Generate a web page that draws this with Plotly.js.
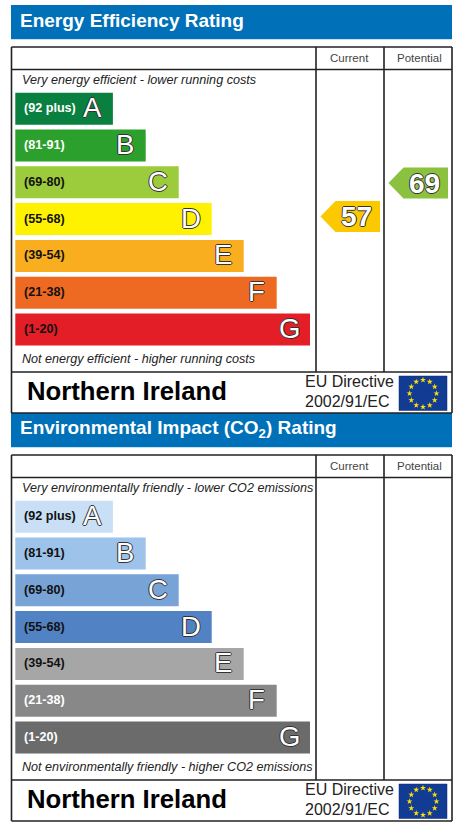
<!DOCTYPE html>
<html><head><meta charset="utf-8">
<script src="https://cdn.plot.ly/plotly-3.0.1.min.js"></script>
<style>html,body{margin:0;padding:0;background:#fff}#c{width:457px;height:823px}</style></head>
<body><div id="c"></div>
<script>
const bandLabels = ['(92 plus)','(81-91)','(69-80)','(55-68)','(39-54)','(21-38)','(1-20)'];
const bandLetters = ['A','B','C','D','E','F','G'];
const bandLengths = [97.6,130.4,163.4,196.4,228.4,261.4,294.7];
const energyColors = ['#0a8040','#2ba02c','#9ccb3b','#fff200','#f8ae1e','#ee6a22','#e31e26'];
const envColors = ['#c8dff5','#9dc3ea','#77a3d6','#5182c4','#a6a6a6','#888888','#6b6b6b'];
const energyLabelColors = ['#fff','#fff','#111','#111','#111','#111','#111'];
const envLabelColors = ['#111','#111','#111','#111','#111','#fff','#fff'];
const energyTitle = 'Energy Efficiency Rating';
const envTitle = 'Environmental Impact (CO<sub>2</sub>) Rating';
const columnHeads = ['Current','Potential'];
const energyCaptions = ['Very energy efficient - lower running costs','Not energy efficient - higher running costs'];
const envCaptions = ['Very environmentally friendly - lower CO2 emissions','Not environmentally friendly - higher CO2 emissions'];
const regionName = 'Northern Ireland';
const directive = ['EU Directive','2002/91/EC'];
const currentScore = 57, currentBand = 3, currentColor = '#fcc800';
const potentialScore = 69, potentialBand = 2, potentialColor = '#8cc13f';

const FONT = 'Liberation Sans, Arial, sans-serif';
const traces = [], shapes = [], annotations = [];
const L = 11.5, R = 452, C1 = 316, C2 = 384;
const outline = '-1px 0 #333,1px 0 #333,0 -1px #333,0 1px #333';

function txt(x,y,text,size,color,opts){
  annotations.push(Object.assign({x,y,xref:'x',yref:'y',text,showarrow:false,xanchor:'left',yanchor:'middle',
    font:{family:FONT,size,color},borderpad:0},opts||{}));
}
function line(x0,y0,x1,y1){
  shapes.push({type:'line',x0,y0,x1,y1,xref:'x',yref:'y',line:{color:'#222',width:1.6},layer:'above'});
}
function panel(o){
  shapes.push({type:'rect',x0:11,x1:452,y0:o.bannerTop,y1:o.bannerTop+34,fillcolor:'#0070b8',line:{width:0},layer:'below'});
  shapes.push({type:'line',x0:11,x1:452,y0:o.bannerTop+34.5,y1:o.bannerTop+34.5,line:{color:'#bfe3f2',width:1},layer:'below'});
  txt(18.7,o.bannerTop+15.5,o.title,19,'#fff',{font:{family:FONT,size:19,color:'#fff',weight:700}});
  const t=o.top, b=t+366;
  line(L,t,R,t); line(L,t,L,b); line(R,t,R,b); line(L,b,R,b);
  line(L,t+22.5,R,t+22.5); line(L,t+325,R,t+325);
  line(C1,t,C1,t+325); line(C2,t,C2,t+325);
  txt((C1+C2)/2-1,t+11,columnHeads[0],11.5,'#444',{xanchor:'center'});
  txt((C2+R)/2+1.5,t+11,columnHeads[1],11.5,'#444',{xanchor:'center'});
  txt(21,t+33,o.captions[0],12.6,'#222',{font:{family:FONT,size:12.6,color:'#222',style:'italic'}});
  txt(21,t+311.5,o.captions[1],12.6,'#222',{font:{family:FONT,size:12.6,color:'#222',style:'italic'}});
  const rowY=bandLengths.map((_,i)=>t+61.7+i*36.8);
  traces.push({type:'bar',orientation:'h',x:bandLengths,y:rowY,base:15.3,width:32,
    marker:{color:o.colors,line:{width:0}},hoverinfo:'skip',showlegend:false});
  bandLengths.forEach((len,i)=>{
    txt(22.5,rowY[i]-0.5,bandLabels[i],12.6,o.labelColors[i],{font:{family:FONT,size:12.6,color:o.labelColors[i],weight:700}});
    txt(15.3+len-20.5,rowY[i]-1,bandLetters[i],27.5,'#fff',{xanchor:'center',font:{family:FONT,size:27.5,color:'#fff',shadow:outline}});
  });
  txt(25.5,t+344,regionName,25.7,'#000',{font:{family:FONT,size:25.7,color:'#000',weight:700}});
  txt(303.5,t+334,directive[0],16,'#222');
  txt(303.5,t+354.5,directive[1],16,'#222');
  shapes.push({type:'rect',x0:399,x1:447,y0:t+329,y1:t+363.5,fillcolor:'#123c94',line:{color:'#0a2a70',width:0.5},layer:'below'});
  const sx=[],sy=[];
  for(let k=0;k<12;k++){const a=k*Math.PI/6; sx.push(423+13.5*Math.cos(a)); sy.push(t+346.5+13.5*Math.sin(a));}
  traces.push({type:'scatter',mode:'markers',x:sx,y:sy,marker:{symbol:'star',size:4.5,color:'#ffe000'},hoverinfo:'skip',showlegend:false});
  return rowY;
}
function arrow(score,color,yc,right){
  const h=31, left=right-59.5, tip=left+15;
  traces.push({type:'scatter',mode:'lines',x:[left,tip,right,right,tip,left],y:[yc,yc-h/2,yc-h/2,yc+h/2,yc+h/2,yc],
    fill:'toself',fillcolor:color,line:{width:0,color:color},hoverinfo:'skip',showlegend:false});
  txt(right-24,yc,String(score),28,'#fff',{xanchor:'center',font:{family:FONT,size:28,color:'#fff',weight:700,shadow:outline}});
}
const energyRows = panel({bannerTop:5,top:47,title:energyTitle,captions:energyCaptions,colors:energyColors,labelColors:energyLabelColors});
panel({bannerTop:413,top:455,title:envTitle,captions:envCaptions,colors:envColors,labelColors:envLabelColors});
arrow(currentScore,currentColor,energyRows[currentBand]-2.6,380);
arrow(potentialScore,potentialColor,energyRows[potentialBand]+0.8,448);

Plotly.newPlot('c',traces,{
  width:457,height:823,margin:{l:0,r:0,t:0,b:0},paper_bgcolor:'#fff',plot_bgcolor:'#fff',
  xaxis:{range:[0,457],visible:false,fixedrange:true},
  yaxis:{range:[823,0],visible:false,fixedrange:true},
  barmode:'overlay',showlegend:false,shapes,annotations
},{staticPlot:true,displayModeBar:false});
</script></body></html>
